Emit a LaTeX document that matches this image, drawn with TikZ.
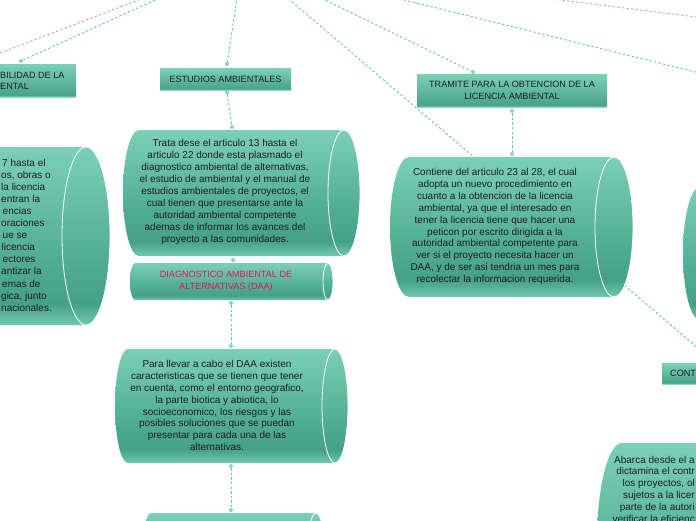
\documentclass[tikz,border=0pt]{standalone}
\usepackage{fontspec}
\setmainfont{Liberation Sans}
\usetikzlibrary{calc}
\definecolor{linkgreen} {HTML}{5DCAA5}
\definecolor{linkpurple}{HTML}{B99AF2}
\definecolor{jointfill} {HTML}{82D6BC}
\definecolor{cyltop}    {HTML}{7BD0B7}
\definecolor{cylmid}    {HTML}{52AF94}
\definecolor{cyldark}   {HTML}{44A086}
\definecolor{cylbot}    {HTML}{70C9AF}
\definecolor{boxtop}    {HTML}{7CD1B8}
\definecolor{boxdark}   {HTML}{48A38A}
\definecolor{boxedge}   {HTML}{8AD9C2}
\definecolor{ink}       {HTML}{1E1E1E}
\definecolor{daared}    {HTML}{E4135F}
\pgfdeclareverticalshading{cylshade}{100bp}{color(0bp)=(cylbot); color(25bp)=(cylbot);
  color(31bp)=(cyldark); color(45bp)=(cylmid); color(75bp)=(cyltop); color(100bp)=(cyltop)}
\pgfdeclareverticalshading{boxshade}{100bp}{color(0bp)=(boxedge); color(25bp)=(boxedge);
  color(28bp)=(boxdark); color(75bp)=(boxtop); color(100bp)=(boxtop)}
\tikzset{
  link/.style     ={draw=linkgreen, line width=0.9pt, dash pattern=on 2.4pt off 2.2pt},
  plink/.style    ={link, draw=linkpurple},
  joint/.style    ={circle, fill=jointfill, inner sep=0pt, minimum size=4pt},
  topic/.style    ={rectangle, shade, shading=boxshade, inner sep=0pt, align=center,
                    text=ink, font=\fontsize{9.1}{12}\selectfont},
  title/.style    ={inner sep=0pt, text=ink, font=\fontsize{9.1}{11}\selectfont},
  body/.style     ={inner sep=0pt, align=center, text=ink, font=\fontsize{10}{11.9}\selectfont},
  capline/.style  ={draw=white, line width=0.8pt},
}
% cylinder: left cap x, right cap x, top, bottom, x radius
\newcommand{\mmcyl}[5]{%
  \path[shade, shading=cylshade] (#2,#3) -- (#1,#3)
    arc[start angle=270, end angle=90, x radius=#5, y radius={(#4-#3)/2}]
    -- (#2,#4)
    arc[start angle=90, end angle=-90, x radius=#5, y radius={(#4-#3)/2}] -- cycle;
  \draw[capline] (#2,{(#3+#4)/2}) ellipse[x radius=#5, y radius={(#4-#3)/2}];
}
\begin{document}
\begin{tikzpicture}[x=1pt,y=1pt,yscale=-1]
  \useasboundingbox (0,0) rectangle (696,520);
  \fill[white] (0,0) rectangle (696,520);
  \clip (0,0) rectangle (696,520);

  % hidden central topic and far ends
  \coordinate (root) at (243,-40);
  \coordinate (westend) at (-60,76);
  \coordinate (eastend) at (760,88);
  \coordinate (farend) at (760,25);

  \node[joint] (left-in) at (21,61) {};
  \node[joint] (estudios-in) at (227,64) {};
  \node[joint] (estudios-out) at (227,92) {};
  \node[joint] (trata-in) at (232,127) {};
  \node[joint] (trata-out) at (233,260) {};
  \node[joint] (daa-out) at (231,303) {};
  \node[joint] (para-in) at (231,346) {};
  \node[joint] (para-out) at (231,466) {};
  \node[joint] (low-in) at (231,510) {};
  \node[joint] (tramite-in) at (473,72) {};
  \node[joint] (tramite-out) at (512,111) {};
  \node[joint] (contiene-in) at (512,154) {};
  \node[joint] (cont-in) at (713,361) {};

  \draw[plink] (root) -- (westend);
  \draw[link] (root) -- (left-in);
  \draw[link] (root) -- (estudios-in);
  \draw[link] (root) -- (cont-in);
  \draw[link] (root) -- (tramite-in);
  \draw[link] (root) -- (eastend);
  \draw[plink] (root) -- (farend);

  % left branch
  \node[topic, minimum width=136pt, minimum height=33pt] (leftbox) at (8,80.5) {};
  \node[title, anchor=west, align=left] (lefttxt) at (0,80.5) {BILIDAD DE LA\\ENTAL};
  \mmcyl{-200}{86}{147}{325}{24}
  \foreach \t/\xs [count=\i from 0] in {{7 hasta el}/2, {os, obras o}/1,
      {la licencia}/1, {entran la}/1, {encias}/2.5, {oraciones}/1, {ue se}/2.5,
      {licencia}/1.5, {ectores}/2.5, {antizar la}/1, {emas de}/2,
      {gica, junto}/1, {nacionales.}/1}
    \node[body, anchor=base west] (lt\i) at (\xs,{166+12.1*\i}) {\t};

  % estudios ambientales
  \node[topic, minimum width=131pt, minimum height=22pt] (estudios) at (225.5,79) {ESTUDIOS AMBIENTALES};
  \mmcyl{139}{344}{130}{256}{16}
  \node[body] (trata) at (225,192) {Trata dese el articulo 13 hasta el\\
    articulo 22 donde esta plasmado el\\diagnostico ambiental de alternativas,\\
    el estudio de ambiental y el manual de\\estudios ambientales de proyectos, el\\
    cual tienen que presentarse ante la\\autoridad ambiental competente\\
    ademas de informar los avances del\\proyecto a las comunidades.};
  \mmcyl{135}{328}{263}{300}{5}
  \node[body, text=daared, font=\fontsize{9.1}{11.5}\selectfont] (daa) at (226,281.5)
    {DIAGNOSTICO AMBIENTAL DE\\ALTERNATIVAS (DAA)};
  \mmcyl{128}{335}{349}{463}{13}
  \node[body] (para) at (217,405.5) {Para llevar a cabo el DAA existen\\
    caracteristicas que se tienen que tener\\en cuenta, como el entorno geografico,\\
    la parte biotica y abiotica, lo\\socioeconomico, los riesgos y las\\
    posibles soluciones que se puedan\\presentar para cada una de las\\alternativas.};
  \mmcyl{151}{316}{513}{580}{8}

  % tramite
  \node[topic, minimum width=190pt, minimum height=33pt] (tramite) at (512,90.5)
    {TRAMITE PARA LA OBTENCION DE LA\\LICENCIA AMBIENTAL};
  \mmcyl{409}{614}{157}{297}{19}
  \node[body] (contiene) at (495,226.5) {Contiene del articulo 23 al 28, el cual\\
    adopta un nuevo procedimiento en\\cuanto a la obtencion de la licencia\\
    ambiental, ya que el interesado en\\tener la licencia tiene que hacer una\\
    peticon por escrito dirigida a la\\autoridad ambiental competente para\\
    ver si el proyecto necesita hacer un\\DAA, y de ser asi tendria un mes para\\
    recolectar la informacion requerida.};

  % right branch
  \mmcyl{700}{950}{187}{320}{17}
  \node[topic, minimum width=118pt, minimum height=21pt, anchor=west] (cont) at (662,373.5) {};
  \node[title, anchor=west] (conttxt) at (670,373.5) {CONT};
  \mmcyl{622}{950}{443}{640}{25}
  \foreach \t [count=\i from 0] in {{Abarca desde el a}, {dictamina el contr},
      {los proyectos, ol}, {sujetos a la licer}, {parte de la autori},
      {verificar la eficienc}}
    \node[body, anchor=base east] (rt\i) at (695,{463+11.8*\i}) {\t};

  % chain links
  \draw[link] (estudios-out) -- (trata-in);
  \draw[link] (daa-out) -- (para-in);
  \draw[link] (para-out) -- (low-in);
  \draw[link] (tramite-out) -- (contiene-in);
\end{tikzpicture}
\end{document}
